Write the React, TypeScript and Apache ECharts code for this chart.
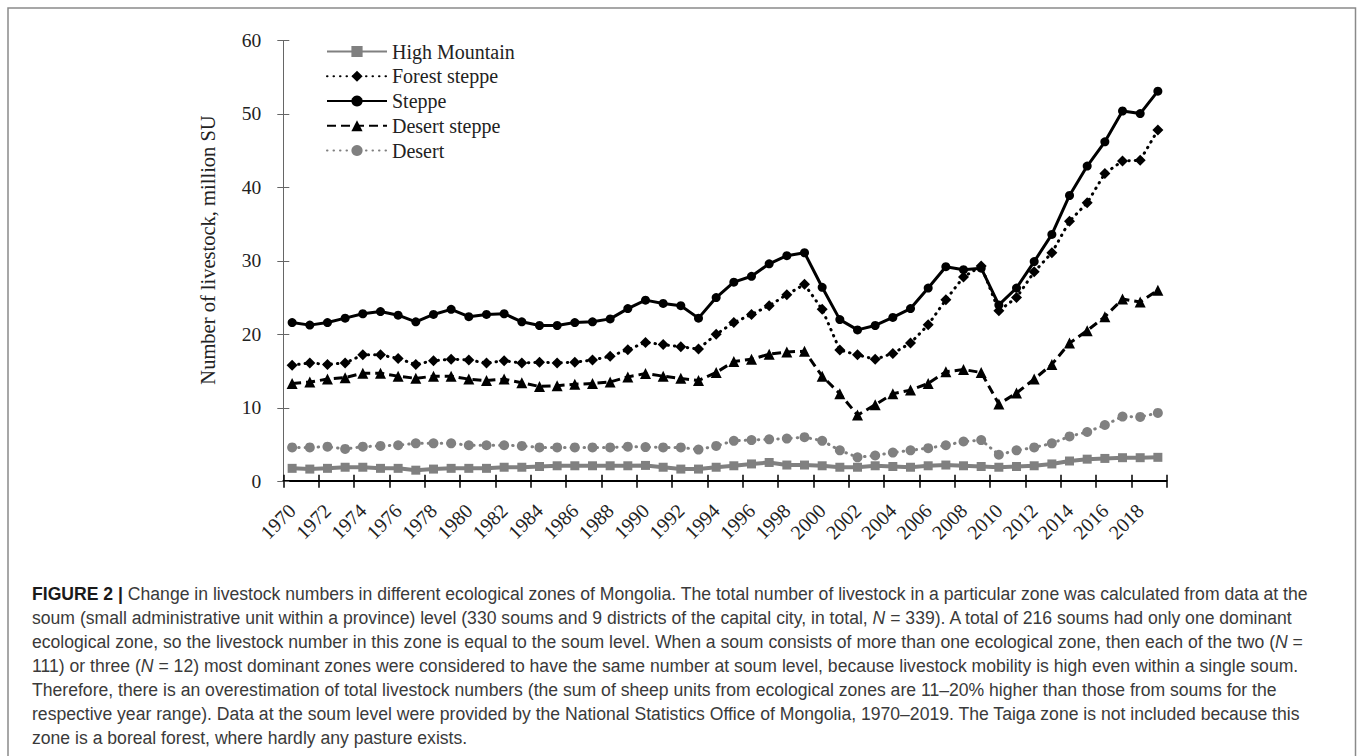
import { useEffect, useRef } from "react";
import * as echarts from "echarts";

const years = [
  "1970", "1971", "1972", "1973", "1974", "1975", "1976", "1977", "1978", "1979",
  "1980", "1981", "1982", "1983", "1984", "1985", "1986", "1987", "1988", "1989",
  "1990", "1991", "1992", "1993", "1994", "1995", "1996", "1997", "1998", "1999",
  "2000", "2001", "2002", "2003", "2004", "2005", "2006", "2007", "2008", "2009",
  "2010", "2011", "2012", "2013", "2014", "2015", "2016", "2017", "2018", "2019",
];

const highMountain = [
  1.75, 1.65, 1.75, 1.9, 1.9, 1.75, 1.75, 1.5, 1.65, 1.75,
  1.75, 1.75, 1.9, 1.9, 2.0, 2.1, 2.1, 2.1, 2.1, 2.1,
  2.15, 1.9, 1.65, 1.65, 1.9, 2.1, 2.35, 2.55, 2.2, 2.2,
  2.1, 1.9, 1.9, 2.1, 2.0, 1.9, 2.1, 2.2, 2.1, 2.0,
  1.9, 2.0, 2.1, 2.35, 2.75, 3.0, 3.1, 3.2, 3.2, 3.25,
];

const forestSteppe = [
  15.8, 16.1, 15.9, 16.1, 17.2, 17.2, 16.7, 15.9, 16.4, 16.6,
  16.5, 16.1, 16.4, 16.1, 16.2, 16.1, 16.2, 16.5, 17.0, 17.9,
  18.9, 18.6, 18.3, 18.0, 20.0, 21.6, 22.7, 23.9, 25.4, 26.8,
  23.4, 17.85, 17.2, 16.6, 17.4, 18.8, 21.3, 24.7, 27.8, 29.3,
  23.2, 25.0, 28.5, 31.1, 35.4, 37.9, 41.9, 43.6, 43.7, 47.8,
];

const steppe = [
  21.6, 21.25, 21.6, 22.2, 22.8, 23.1, 22.6, 21.7, 22.7, 23.4,
  22.4, 22.7, 22.8, 21.7, 21.2, 21.2, 21.6, 21.7, 22.1, 23.5,
  24.65, 24.2, 23.9, 22.2, 25.0, 27.1, 27.9, 29.6, 30.7, 31.1,
  26.4, 22.0, 20.6, 21.2, 22.3, 23.5, 26.3, 29.2, 28.8, 29.0,
  24.0, 26.3, 29.9, 33.6, 38.9, 42.9, 46.2, 50.4, 50.05, 53.1,
];

const desertSteppe = [
  13.3, 13.5, 13.9, 14.1, 14.7, 14.7, 14.3, 14.0, 14.3, 14.3,
  13.9, 13.7, 13.9, 13.4, 12.9, 13.0, 13.2, 13.3, 13.5, 14.2,
  14.65, 14.3, 14.0, 13.7, 14.8, 16.3, 16.6, 17.3, 17.6, 17.7,
  14.3, 11.9, 9.0, 10.4, 11.9, 12.4, 13.3, 14.9, 15.2, 14.8,
  10.5, 12.0, 13.9, 15.9, 18.8, 20.5, 22.4, 24.8, 24.4, 26.0,
];

const desert = [
  4.6, 4.6, 4.7, 4.4, 4.7, 4.8, 4.9, 5.15, 5.15, 5.15,
  4.9, 4.9, 4.9, 4.8, 4.6, 4.6, 4.6, 4.6, 4.6, 4.7,
  4.65, 4.6, 4.6, 4.3, 4.8, 5.5, 5.6, 5.7, 5.8, 6.0,
  5.5, 4.2, 3.25, 3.5, 3.9, 4.2, 4.5, 4.9, 5.4, 5.6,
  3.6, 4.2, 4.6, 5.15, 6.1, 6.7, 7.65, 8.8, 8.75, 9.3,
];

const seriesNames = ["High Mountain", "Forest steppe", "Steppe", "Desert steppe", "Desert"];
const yTitle = "Number of livestock, million SU";

const captionLines = [
  "{b|FIGURE 2 |} Change in livestock numbers in different ecological zones of Mongolia. The total number of livestock in a particular zone was calculated from data at the",
  "soum (small administrative unit within a province) level (330 soums and 9 districts of the capital city, in total, {i|N} = 339). A total of 216 soums had only one dominant",
  "ecological zone, so the livestock number in this zone is equal to the soum level. When a soum consists of more than one ecological zone, then each of the two ({i|N} =",
  "111) or three ({i|N} = 12) most dominant zones were considered to have the same number at soum level, because livestock mobility is high even within a single soum.",
  "Therefore, there is an overestimation of total livestock numbers (the sum of sheep units from ecological zones are 11–20% higher than those from soums for the",
  "respective year range). Data at the soum level were provided by the National Statistics Office of Mongolia, 1970–2019. The Taiga zone is not included because this",
  "zone is a boreal forest, where hardly any pasture exists.",
];

const SERIF = "'Liberation Serif', 'Times New Roman', serif";
const SANS = "'Liberation Sans', Arial, Helvetica, sans-serif";
const GRAY = "#808080";

export default function App() {
  const ref = useRef<HTMLDivElement>(null);

  useEffect(() => {
    if (!ref.current) return;
    const chart = echarts.init(ref.current, undefined, { renderer: "svg" });

    const capFont = 17.6;
    const captionGraphics = captionLines.map((line, i) => ({
      type: "text",
      x: 32,
      y: 594 + i * 24,
      style: {
        text: line,
        fill: "#3a3a3a",
        fontSize: capFont,
        fontFamily: SANS,
        verticalAlign: "middle",
        rich: {
          b: { fontWeight: "bold", fontSize: capFont, fontFamily: SANS, fill: "#1a1a1a" },
          i: { fontStyle: "italic", fontSize: capFont, fontFamily: SANS, fill: "#3a3a3a" },
        },
      },
    }));

    const option: any = {
      animation: false,
      backgroundColor: "#ffffff",
      grid: {
        left: 283.3,
        right: 195.3,
        top: 40.5,
        bottom: 274.8,
        containLabel: false,
        outerBoundsMode: "none",
      },
      legend: {
        orient: "vertical",
        left: 321,
        top: 36.5,
        itemWidth: 60,
        itemHeight: 14,
        itemGap: 4.75,
        data: seriesNames,
        textStyle: { fontFamily: SERIF, fontSize: 20, color: "#222", lineHeight: 20 },
      },
      xAxis: [
        {
          type: "category",
          data: years,
          boundaryGap: true,
          axisLine: { show: true, lineStyle: { color: "#000", width: 2 } },
          axisTick: { show: true, interval: 1, length: 6.5, lineStyle: { color: "#000", width: 1.5 } },
          axisLabel: {
            interval: 1,
            rotate: 45,
            margin: 26,
            fontFamily: SERIF,
            fontSize: 20,
            color: "#222",
          },
          splitLine: { show: false },
        },
        {
          type: "category",
          data: years,
          boundaryGap: true,
          position: "bottom",
          axisLine: { show: false },
          axisTick: { show: true, inside: true, interval: 1, length: 6.5, lineStyle: { color: "#000", width: 1.5 } },
          axisLabel: { show: false, interval: 1 },
          splitLine: { show: false },
        },
      ],
      yAxis: [
        {
          type: "value",
          min: 0,
          max: 60,
          interval: 10,
          axisLine: { show: true, lineStyle: { color: "#666", width: 1 } },
          axisTick: { show: true, length: 6, lineStyle: { color: "#666", width: 1 } },
          axisLabel: { margin: 22, fontFamily: SERIF, fontSize: 19.5, color: "#222" },
          splitLine: { show: false },
        },
        {
          type: "value",
          min: 0,
          max: 60,
          interval: 10,
          position: "left",
          axisLine: { show: false },
          axisTick: { show: true, inside: true, length: 6, lineStyle: { color: "#666", width: 1 } },
          axisLabel: { show: false },
          splitLine: { show: false },
        },
      ],
      series: [
        {
          name: seriesNames[0],
          type: "line",
          data: highMountain,
          symbol: "rect",
          symbolSize: 9,
          showAllSymbol: true,
          lineStyle: { color: GRAY, width: 4 },
          itemStyle: { color: GRAY },
        },
        {
          name: seriesNames[1],
          type: "line",
          data: forestSteppe,
          symbol: "diamond",
          symbolSize: 11,
          showAllSymbol: true,
          lineStyle: { color: "#000", width: 3, type: [0.5, 6], cap: "round" },
          itemStyle: { color: "#000" },
        },
        {
          name: seriesNames[2],
          type: "line",
          data: steppe,
          symbol: "circle",
          symbolSize: 9,
          showAllSymbol: true,
          lineStyle: { color: "#000", width: 3 },
          itemStyle: { color: "#000" },
        },
        {
          name: seriesNames[3],
          type: "line",
          data: desertSteppe,
          symbol: "triangle",
          symbolSize: 11,
          showAllSymbol: true,
          lineStyle: { color: "#000", width: 3, type: [9, 5] },
          itemStyle: { color: "#000" },
        },
        {
          name: seriesNames[4],
          type: "line",
          data: desert,
          symbol: "circle",
          symbolSize: 10,
          showAllSymbol: true,
          lineStyle: { color: GRAY, width: 3, type: [0.5, 6], cap: "round" },
          itemStyle: { color: GRAY },
        },
      ],
      graphic: [
        {
          type: "polyline",
          shape: { points: [[8, 760], [8, 8], [1355.5, 8], [1355.5, 760]] },
          style: { stroke: "#8a8a8a", lineWidth: 1.5, fill: "none" },
          silent: true,
        },
        {
          type: "text",
          x: 208,
          y: 250,
          rotation: Math.PI / 2,
          style: {
            text: yTitle,
            fill: "#222",
            fontSize: 20.5,
            fontFamily: SERIF,
            align: "center",
            verticalAlign: "middle",
          },
        },
        ...captionGraphics,
      ],
    };

    chart.setOption(option);
    return () => chart.dispose();
  }, []);

  return (
    <div
      ref={ref}
      style={{ position: "absolute", left: 0, top: 0, width: 1362, height: 756 }}
    />
  );
}
